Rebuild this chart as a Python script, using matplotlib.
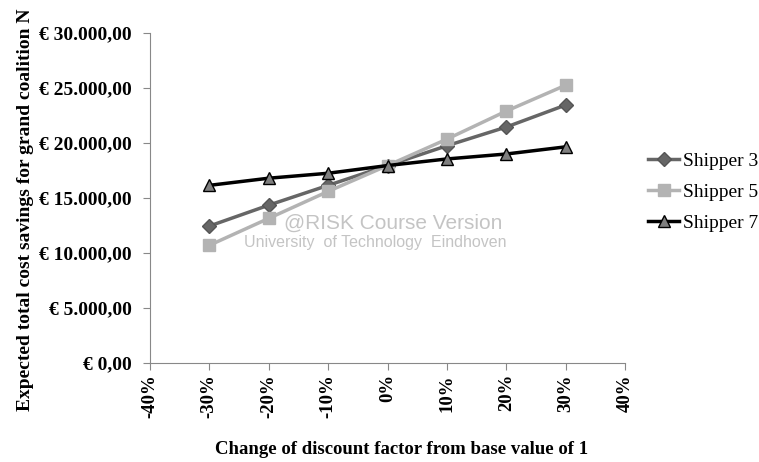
import matplotlib.pyplot as plt
from matplotlib.ticker import FuncFormatter

# data
changes = [-0.30, -0.20, -0.10, 0.0, 0.10, 0.20, 0.30]
shipper_3 = [12450, 14350, 16150, 17950, 19750, 21450, 23450]
shipper_5 = [10700, 13150, 15600, 17950, 20350, 22900, 25250]
shipper_7 = [16150, 16800, 17250, 17950, 18550, 19000, 19650]

x_ticks = [-0.4, -0.3, -0.2, -0.1, 0.0, 0.1, 0.2, 0.3, 0.4]
y_ticks = [0, 5000, 10000, 15000, 20000, 25000, 30000]

serif = ['Liberation Serif', 'DejaVu Serif']
sans = ['Liberation Sans', 'DejaVu Sans']


def euro(v, pos=None):
    s = f"{v:,.2f}"
    s = s.replace(',', 'X').replace('.', ',').replace('X', '.')
    return f"€ {s}"


fig = plt.figure(figsize=(7.59, 4.62), dpi=100)
ax = fig.add_axes([150 / 759, 1 - 363 / 462, 475 / 759, 330 / 462])

ax.plot(changes, shipper_3, color='#666666', lw=2.5, marker='D', ms=7,
        mfc='#666666', mec='#555555', label='Shipper 3', zorder=3)
ax.plot(changes, shipper_5, color='#b3b3b3', lw=2.5, marker='s', ms=8,
        mfc='#b3b3b3', mec='#b3b3b3', label='Shipper 5', zorder=3)
ax.plot(changes, shipper_7, color='#000000', lw=2.5, marker='^', ms=9,
        mfc='#7f7f7f', mec='#000000', mew=1, label='Shipper 7', zorder=4)

# watermark
ax.text(0.01, 12750, '@RISK Course Version', fontsize=15, color='#c4c4c4',
        family=sans, ha='center', va='center', zorder=1)
ax.text(-0.02, 10950, 'University  of Technology  Eindhoven', fontsize=11.5, color='#c4c4c4',
        family=sans, ha='center', va='center', zorder=1)

ax.set_xlim(-0.4, 0.4)
ax.set_ylim(0, 30000)
ax.set_xticks(x_ticks)
ax.set_xticklabels([f"{round(v * 100)}%" for v in x_ticks], rotation=90,
                   fontsize=13.5, fontweight='bold', family=serif)
ax.set_yticks(y_ticks)
ax.yaxis.set_major_formatter(FuncFormatter(euro))
for lbl in ax.get_yticklabels():
    lbl.set_fontsize(14)
    lbl.set_fontweight('bold')
    lbl.set_family(serif)

ax.spines['top'].set_visible(False)
ax.spines['right'].set_visible(False)
ax.spines['left'].set_color('#888888')
ax.spines['bottom'].set_color('#888888')
ax.tick_params(axis='both', colors='#888888', length=5, labelcolor='black')
ax.tick_params(axis='x', pad=3)
ax.tick_params(axis='y', pad=8)

ax.set_xlabel('Change of discount factor from base value of 1', fontsize=13.5,
              fontweight='bold', family=serif)
ax.xaxis.set_label_coords(0.53, -0.235)
ax.set_ylabel('Expected total cost savings for grand coalition N', fontsize=14,
              fontweight='bold', family=serif)
ax.yaxis.set_label_coords(-0.245, 0.465)

ax.legend(loc='center left', bbox_to_anchor=(648 / 759, 1 - 192 / 462),
          bbox_transform=fig.transFigure, frameon=False, borderpad=0, borderaxespad=0,
          prop={'family': serif, 'size': 14}, handlelength=1.6, handletextpad=0.2,
          labelspacing=0.7)

fig.savefig('out.png', dpi=100)
